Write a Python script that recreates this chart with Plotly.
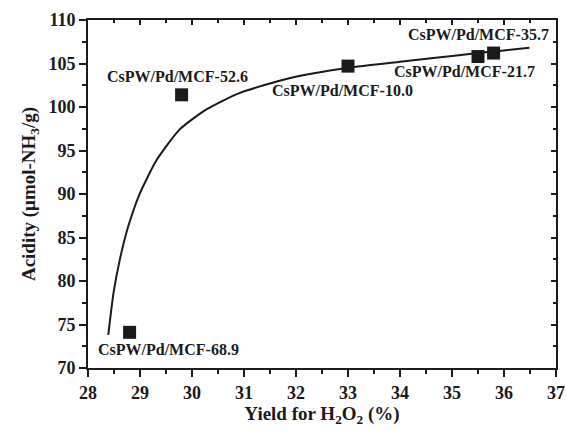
import plotly.graph_objects as go

# Data
sample_labels = ["CsPW/Pd/MCF-68.9", "CsPW/Pd/MCF-52.6", "CsPW/Pd/MCF-10.0",
                 "CsPW/Pd/MCF-21.7", "CsPW/Pd/MCF-35.7"]
yield_h2o2 = [28.8, 29.8, 33.0, 35.5, 35.8]
acidity = [74.1, 101.4, 104.7, 105.8, 106.2]

# fitted curve
curve_x = [28.39, 28.49, 28.61, 28.77, 29.00, 29.32, 29.76, 30.27, 30.91, 31.87,
           33.0, 34.0, 34.6, 35.5, 36.0, 36.49]
curve_y = [73.8, 78.6, 82.4, 86.2, 90.1, 93.9, 97.4, 99.7, 101.6, 103.3,
           104.5, 105.2, 105.6, 106.2, 106.5, 106.8]

# label anchor positions (data coords)
label_x = [29.55, 29.72, 32.89, 35.24, 35.50]
label_y = [72.1, 103.45, 101.95, 104.06, 108.28]

x_ticks = list(range(28, 38))
y_ticks = list(range(70, 111, 5))

FONT = "Liberation Serif, Times New Roman, serif"
INK = "#1a1a1a"

fig = go.Figure()
fig.add_trace(go.Scatter(x=curve_x, y=curve_y, mode="lines",
                         line=dict(color=INK, width=2, shape="spline", smoothing=0.6),
                         hoverinfo="skip", showlegend=False))
fig.add_trace(go.Scatter(x=yield_h2o2, y=acidity, mode="markers",
                         marker=dict(symbol="square", size=13, color=INK),
                         text=sample_labels, showlegend=False))
# invisible trace for mirrored inner-tick axes
fig.add_trace(go.Scatter(x=[28], y=[70], xaxis="x2", yaxis="y2", mode="markers",
                         marker=dict(opacity=0), hoverinfo="skip", showlegend=False))

for lx, ly, t in zip(label_x, label_y, sample_labels):
    fig.add_annotation(x=lx, y=ly, text=f"<b>{t}</b>", showarrow=False,
                       font=dict(family=FONT, size=16, color=INK))

axis_common = dict(showline=True, linecolor=INK, linewidth=2, showgrid=False,
                   zeroline=False, ticks="outside", ticklen=7, tickwidth=2,
                   tickcolor=INK, automargin=False,
                   tickfont=dict(family=FONT, size=18, color=INK))

fig.update_layout(
    width=566, height=431,
    margin=dict(l=88, r=10, t=20, b=63),
    paper_bgcolor="white", plot_bgcolor="white",
    xaxis=dict(range=[28, 37], tickvals=x_ticks,
               ticktext=[f"<b>{v}</b>" for v in x_ticks], **axis_common,
               minor=dict(dtick=0.5, ticklen=4, tickwidth=2, ticks="outside", tickcolor=INK),
               title=dict(text="<b>Yield for H<sub>2</sub>O<sub>2</sub> (%)</b>", standoff=1,
                          font=dict(family=FONT, size=19, color=INK))),
    yaxis=dict(range=[70, 110], tickvals=y_ticks,
               ticktext=[f"<b>{v}</b>" for v in y_ticks], **axis_common,
               minor=dict(dtick=2.5, ticklen=4, tickwidth=2, ticks="outside", tickcolor=INK),
               title=dict(text="<b>Acidity (μmol-NH<sub>3</sub>/g)</b>", standoff=8,
                          font=dict(family=FONT, size=19, color=INK))),
    xaxis2=dict(range=[28, 37], overlaying="x", side="top", anchor="y2",
                showline=True, linecolor=INK, linewidth=2, showgrid=False, zeroline=False,
                tickvals=x_ticks, ticks="inside", ticklen=5, tickwidth=1.5, tickcolor=INK,
                showticklabels=False, automargin=False,
                minor=dict(dtick=0.5, ticklen=3, tickwidth=1.5, ticks="inside", tickcolor=INK)),
    yaxis2=dict(range=[70, 110], overlaying="y", side="right", anchor="x2",
                showline=True, linecolor=INK, linewidth=2, showgrid=False, zeroline=False,
                tickvals=y_ticks, ticks="inside", ticklen=5, tickwidth=1.5, tickcolor=INK,
                showticklabels=False, automargin=False,
                minor=dict(dtick=2.5, ticklen=3, tickwidth=1.5, ticks="inside", tickcolor=INK)),
)

fig.write_html("out.html", config={"displayModeBar": False},
               post_script="document.body.style.margin='0';document.body.style.overflow='hidden';")
